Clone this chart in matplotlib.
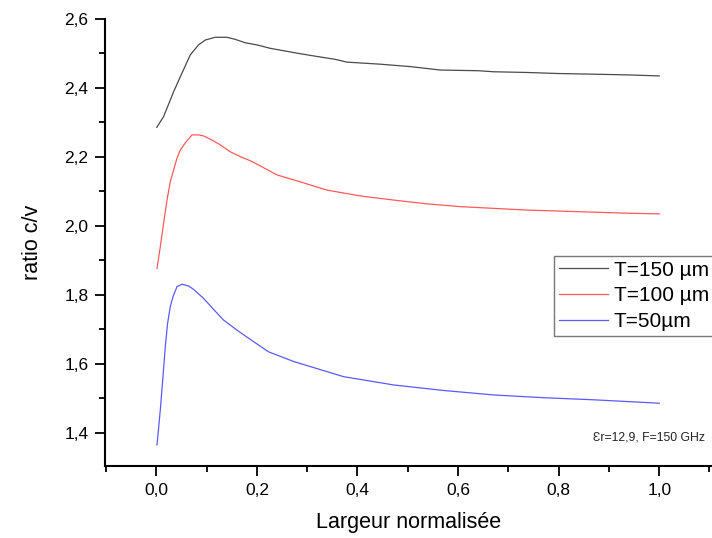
import matplotlib
matplotlib.use("Agg")
import matplotlib.pyplot as plt
from matplotlib.ticker import MultipleLocator, FuncFormatter

plt.rcParams["font.family"] = ["Liberation Sans", "DejaVu Sans"]

# ── Data ──────────────────────────────────────────────────────────────────
x_150 = [0.001, 0.0145, 0.0344, 0.051, 0.0676, 0.084, 0.0974, 0.117, 0.1406,
         0.157, 0.177, 0.200, 0.2266, 0.253, 0.2797, 0.3127, 0.3559, 0.379,
         0.445, 0.505, 0.565, 0.641, 0.6706, 0.737, 0.797, 0.869, 0.936, 1.0]
y_150 = [2.286, 2.317, 2.389, 2.443, 2.496, 2.525, 2.539, 2.547, 2.547,
         2.541, 2.531, 2.525, 2.515, 2.508, 2.501, 2.493, 2.483, 2.475,
         2.469, 2.462, 2.452, 2.450, 2.447, 2.445, 2.442, 2.440, 2.438, 2.435]

x_100 = [0.0014, 0.008, 0.0145, 0.0213, 0.0278, 0.0344, 0.041, 0.0477, 0.0577,
         0.071, 0.084, 0.094, 0.1107, 0.1272, 0.147, 0.167, 0.187, 0.2068,
         0.240, 0.286, 0.339, 0.4056, 0.472, 0.5385, 0.6044, 0.6706, 0.737,
         0.803, 0.869, 0.936, 1.0]
y_100 = [1.877, 1.940, 2.008, 2.075, 2.128, 2.162, 2.196, 2.220, 2.241,
         2.264, 2.264, 2.261, 2.249, 2.235, 2.215, 2.201, 2.189, 2.174,
         2.148, 2.128, 2.104, 2.087, 2.075, 2.064, 2.056, 2.051, 2.046,
         2.043, 2.040, 2.037, 2.035]

x_50 = [0.0014, 0.008, 0.0133, 0.0179, 0.0225, 0.0278, 0.0332, 0.0412, 0.0511,
        0.0642, 0.0742, 0.094, 0.1139, 0.1338, 0.1604, 0.1869, 0.2233, 0.273,
        0.3724, 0.472, 0.571, 0.6706, 0.770, 0.869, 1.0]
y_50 = [1.365, 1.467, 1.563, 1.650, 1.718, 1.766, 1.795, 1.824, 1.831,
        1.826, 1.816, 1.790, 1.758, 1.727, 1.698, 1.671, 1.635, 1.607,
        1.563, 1.539, 1.523, 1.510, 1.502, 1.496, 1.486]

labels = ["T=150 µm", "T=100 µm", "T=50µm"]
colors = ["#4a4a4a", "#ff5a5a", "#5a5aff"]

# ── Plot ───────────────────────────────────────────────────────────────────
fig = plt.figure(figsize=(7.12, 5.38), dpi=100)
ax = fig.add_axes([105 / 712, 1 - 466 / 538, 1 - 105 / 712, (466 - 19) / 538])

for xs, ys, lab, c in zip([x_150, x_100, x_50], [y_150, y_100, y_50], labels, colors):
    ax.plot(xs, ys, color=c, linewidth=0.9, label=lab)

ax.set_xlim(-0.102, 1.105)
ax.set_ylim(1.304, 2.6)

ax.xaxis.set_major_locator(MultipleLocator(0.2))
ax.xaxis.set_minor_locator(MultipleLocator(0.1))
ax.yaxis.set_major_locator(MultipleLocator(0.2))
ax.yaxis.set_minor_locator(MultipleLocator(0.1))
comma = FuncFormatter(lambda v, p: f"{v:.1f}".replace(".", ","))
ax.xaxis.set_major_formatter(comma)
ax.yaxis.set_major_formatter(comma)

ax.tick_params(which="major", direction="out", length=7, width=1.3, labelsize=12.5, pad=5)
ax.tick_params(which="minor", direction="out", length=4, width=1.3)

for s in ["top", "right"]:
    ax.spines[s].set_visible(False)
for s in ["left", "bottom"]:
    ax.spines[s].set_linewidth(1.5)

ax.set_xlabel("Largeur normalisée", fontsize=15.5, labelpad=10)
ax.set_ylabel("ratio c/v", fontsize=15.5, labelpad=15)

leg = fig.legend(loc="upper left", bbox_to_anchor=(554 / 712, 1 - 256 / 538),
                 fontsize=15, frameon=True, fancybox=False,
                 handlelength=2.35, handletextpad=0.3, labelspacing=0.33,
                 borderpad=0.22, borderaxespad=0)
leg.get_frame().set_edgecolor("#555555")
leg.get_frame().set_linewidth(1.0)

fig.text(593 / 712, 1 - 437 / 538, "Ɛr=12,9, F=150 GHz", fontsize=8.8,
         va="center", ha="left", color="#222222")

plt.savefig("out.png", dpi=100)
plt.close()
